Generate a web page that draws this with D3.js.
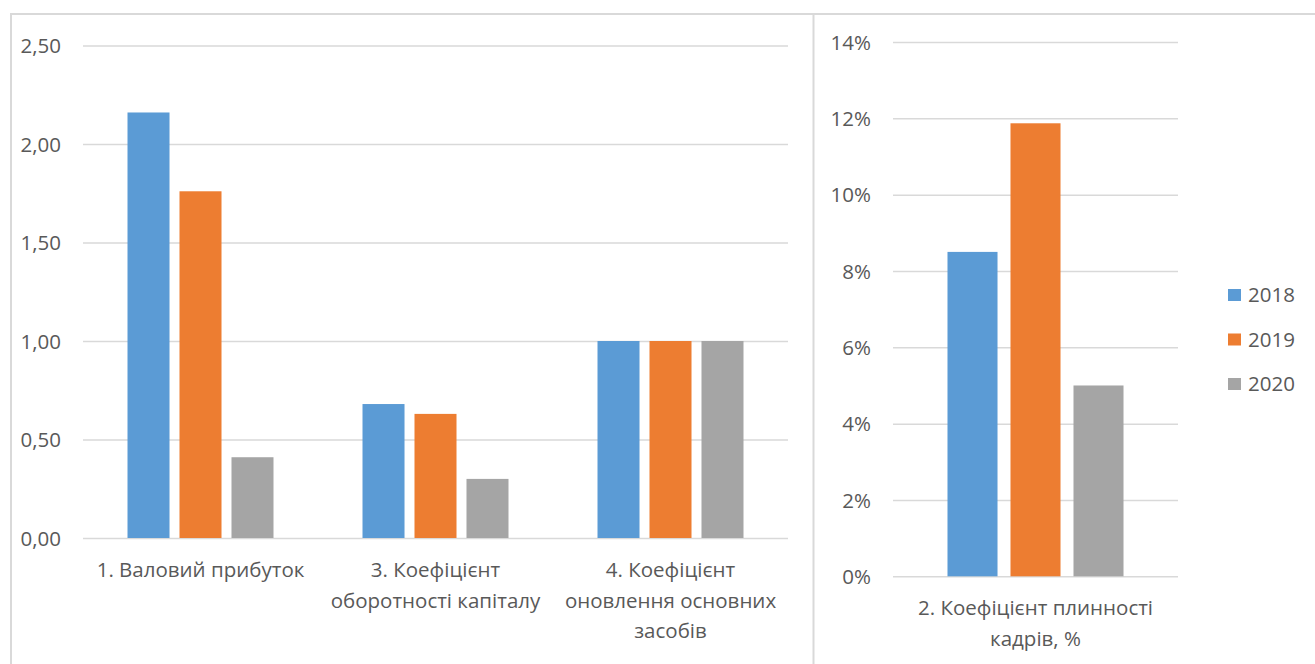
<!DOCTYPE html>
<html>
<head>
<meta charset="utf-8">
<script src="https://cdn.jsdelivr.net/npm/d3@7"></script>
<style>
  html, body { margin: 0; padding: 0; background: #fff; }
  svg { display: block; }
  text { font-family: "Open Sans", "Noto Sans", sans-serif; fill: #595959; }
</style>
</head>
<body>
<svg id="chart" width="1315" height="664"></svg>
<script>
// Series (years) and colours
const years = ["2018", "2019", "2020"];
const colors = ["#5B9BD5", "#ED7D31", "#A5A5A5"];

// Left panel: coefficients
const leftCategories = [
  ["1. Валовий прибуток"],
  ["3. Коефіцієнт", "оборотності капіталу"],
  ["4. Коефіцієнт", "оновлення основних", "засобів"]
];
const leftValues2018 = [2.16, 0.68, 1.00];
const leftValues2019 = [1.76, 0.63, 1.00];
const leftValues2020 = [0.41, 0.30, 1.00];
const leftTicks = [0, 0.5, 1.0, 1.5, 2.0, 2.5];

// Right panel: staff turnover, %
const rightCategories = [["2. Коефіцієнт плинності", "кадрів, %"]];
const rightValues2018 = [0.085];
const rightValues2019 = [0.1187];
const rightValues2020 = [0.050];
const rightTicks = [0, 0.02, 0.04, 0.06, 0.08, 0.10, 0.12, 0.14];

const svg = d3.select("#chart");
const FS = 20.5;

// Outer frames of the two chart areas
const frame = svg.append("g").attr("stroke", "#D9D9D9").attr("fill", "none");
frame.append("line").attr("x1", 10).attr("x2", 1315).attr("y1", 14).attr("y2", 14).attr("stroke-width", 2);
frame.append("line").attr("x1", 11).attr("x2", 11).attr("y1", 14).attr("y2", 664).attr("stroke-width", 2);
frame.append("line").attr("x1", 813.5).attr("x2", 813.5).attr("y1", 14).attr("y2", 664).attr("stroke-width", 2);

function panel(opts) {
  const { x0, x1, yTop, yBottom, categories, series, ticks, tickFormat, labelRight, innerPad, outerPad, labelBase } = opts;
  const g = svg.append("g");
  const y = d3.scaleLinear().domain([ticks[0], ticks[ticks.length - 1]]).range([yBottom, yTop]);
  const x = d3.scaleBand().domain(d3.range(categories.length)).range([x0, x1]).paddingInner(0).paddingOuter(0);
  const xs = d3.scaleBand().domain(d3.range(series.length)).range([0, x.bandwidth()])
    .paddingInner(innerPad).paddingOuter(outerPad);

  // gridlines and value labels
  const axis = d3.axisLeft(y).tickValues(ticks).tickSize(-(x1 - x0)).tickFormat(tickFormat).tickPadding(0);
  const ag = g.append("g").attr("transform", `translate(${x0},0)`).call(axis);
  ag.select(".domain").remove();
  ag.selectAll(".tick line").attr("stroke", "#D9D9D9").attr("stroke-width", 1.5);
  ag.selectAll(".tick text")
    .attr("x", labelRight - x0)
    .attr("dy", "0.35em")
    .attr("text-anchor", "end")
    .style("font-size", FS + "px")
    .style("font-family", "'Open Sans', sans-serif")
    .attr("fill", "#595959");

  // bars
  series.forEach((vals, si) => {
    g.append("g").selectAll("rect").data(vals).join("rect")
      .attr("x", (d, i) => x(i) + xs(si))
      .attr("width", xs.bandwidth())
      .attr("y", d => y(d))
      .attr("height", d => y(0) - y(d))
      .attr("fill", colors[si]);
  });

  // category labels
  categories.forEach((lines, i) => {
    const t = g.append("text")
      .attr("text-anchor", "middle")
      .style("font-size", FS + "px");
    lines.forEach((ln, li) => {
      t.append("tspan")
        .attr("x", x(i) + x.bandwidth() / 2)
        .attr("y", labelBase + li * 30.5)
        .text(ln);
    });
  });
}

panel({
  x0: 83, x1: 788, yTop: 45.5, yBottom: 538,
  categories: leftCategories,
  series: [leftValues2018, leftValues2019, leftValues2020],
  ticks: leftTicks,
  tickFormat: d => d3.format(".2f")(d).replace(".", ","),
  labelRight: 61,
  innerPad: 0.192, outerPad: 0.856,
  labelBase: 577
});

panel({
  x0: 893, x1: 1178, yTop: 42, yBottom: 576.3,
  categories: rightCategories,
  series: [rightValues2018, rightValues2019, rightValues2020],
  ticks: rightTicks,
  tickFormat: d => Math.round(d * 100) + "%",
  labelRight: 871,
  innerPad: 0.206, outerPad: 0.865,
  labelBase: 615
});

// Legend
const legend = svg.append("g");
years.forEach((yr, i) => {
  const ly = 295 + i * 44.5;
  legend.append("rect").attr("x", 1228).attr("y", ly - 6).attr("width", 13).attr("height", 12).attr("fill", colors[i]);
  legend.append("text").attr("x", 1248).attr("y", ly).attr("dy", "0.35em")
    .style("font-size", FS + "px").text(yr);
});
</script>
</body>
</html>
